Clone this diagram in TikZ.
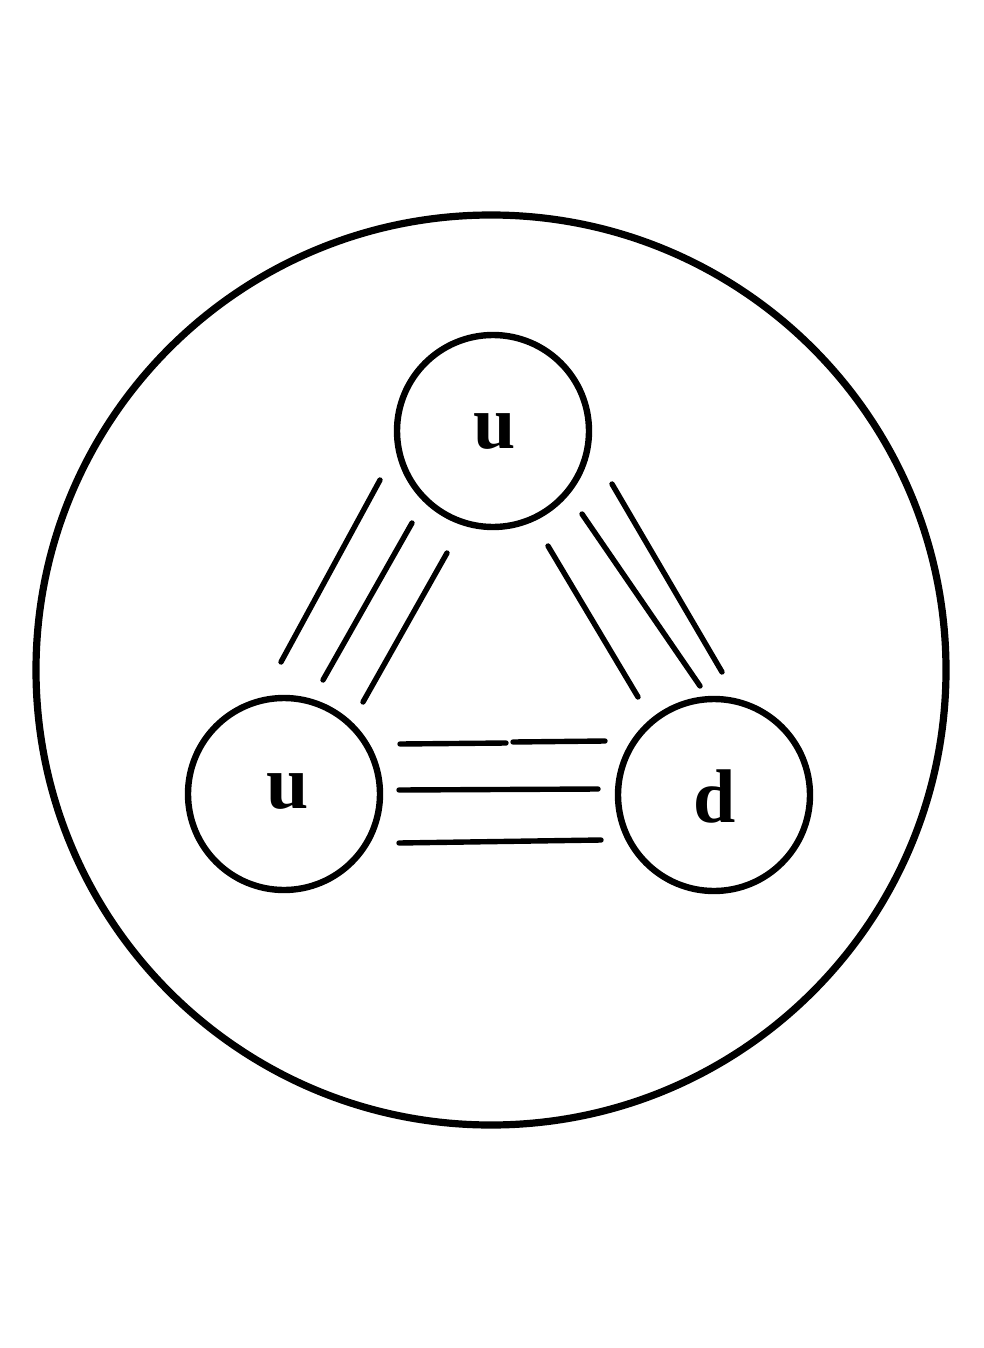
\documentclass[tikz,border=0pt]{standalone}
\usepackage{fontspec}
\setmainfont{Liberation Serif}
\begin{document}
\begin{tikzpicture}[x=0.5pt,y=-0.5pt,
  quark/.style={circle,draw,line width=3.2pt,minimum size=96pt,inner sep=0pt},
  flavour/.style={inner sep=0pt,font=\fontsize{38}{44}\selectfont\bfseries},
  bond/.style={line width=2.7pt,line cap=round}]
\useasboundingbox (0,0) rectangle (984,1348);
\node[circle,draw,line width=3.6pt,minimum size=455pt,inner sep=0pt] (hadron) at (491,670) {};
\node[quark] (qt) at (493,431) {};
\node[quark] (ql) at (284,794) {};
\node[quark] (qr) at (714,795) {};
\node[flavour] (lt) at (495,432) {u};
\node[flavour] (ll) at (288,792) {u};
\node[flavour] (lr) at (715,796) {d};
% left bonds
\coordinate (l1a) at (380,480); \coordinate (l1b) at (281,662);
\coordinate (l2a) at (412,523); \coordinate (l2b) at (323,680);
\coordinate (l3a) at (447,553); \coordinate (l3b) at (363,702);
\draw[bond] (l1a) -- (l1b);
\draw[bond] (l2a) -- (l2b);
\draw[bond] (l3a) -- (l3b);
% right bonds
\coordinate (r1a) at (612,484); \coordinate (r1b) at (722,672);
\coordinate (r2a) at (582,514); \coordinate (r2b) at (700,686);
\coordinate (r3a) at (548,546); \coordinate (r3b) at (638,697);
\draw[bond] (r1a) -- (r1b);
\draw[bond] (r2a) -- (r2b);
\draw[bond] (r3a) -- (r3b);
% bottom bonds
\coordinate (b1a) at (400,744); \coordinate (b1m) at (506,743);
\coordinate (b1n) at (513,742); \coordinate (b1b) at (605,741);
\coordinate (b2a) at (399,790); \coordinate (b2b) at (598,789);
\coordinate (b3a) at (399,843); \coordinate (b3b) at (601,840);
\draw[bond] (b1a) -- (b1m);
\draw[bond] (b1n) -- (b1b);
\draw[bond] (b2a) -- (b2b);
\draw[bond] (b3a) -- (b3b);
\end{tikzpicture}
\end{document}
